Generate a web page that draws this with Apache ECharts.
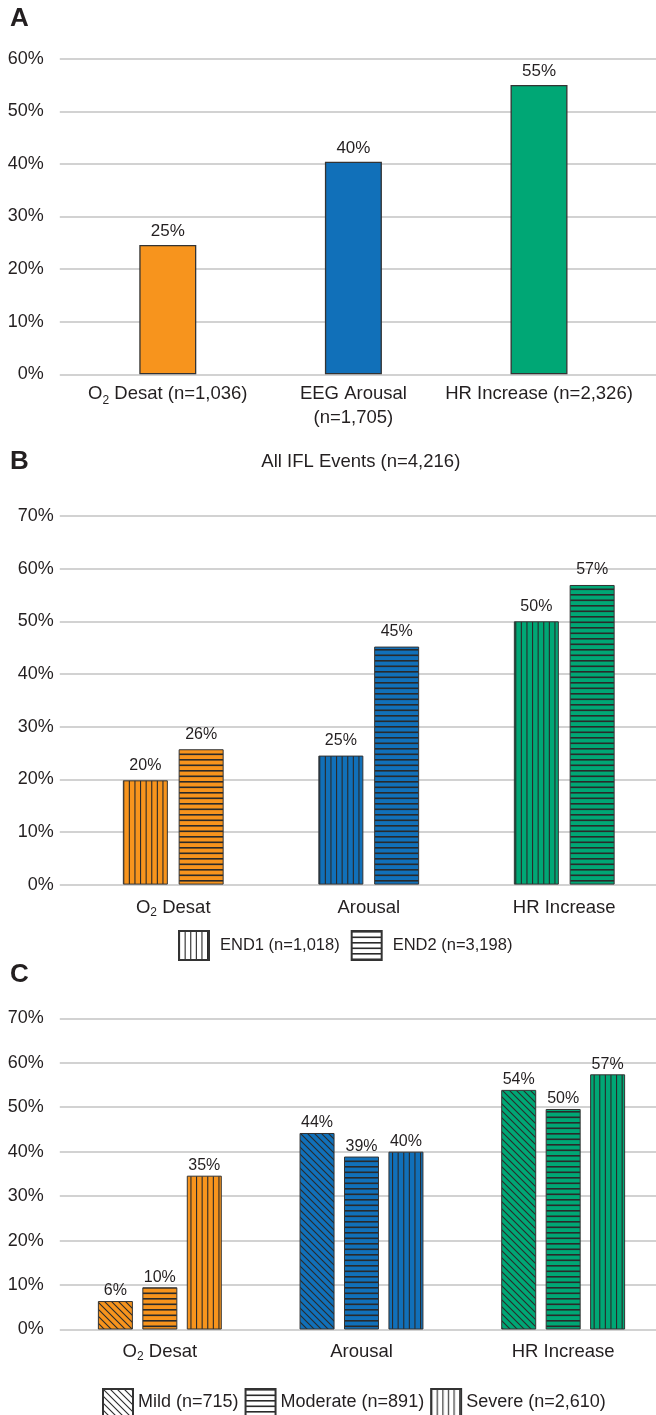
<!DOCTYPE html>
<html><head><meta charset="utf-8">
<script src="https://cdn.jsdelivr.net/npm/echarts@6/dist/echarts.min.js"></script>
<style>html,body{margin:0;padding:0;background:#fff}#c{width:656px;height:1415px}</style>
</head><body><div id="c"></div>
<script>
// ---------- data ----------
const categoriesA = ['O₂ Desat (n=1,036)', 'EEG Arousal\n(n=1,705)', 'HR Increase (n=2,326)'];
const valuesA = [24.6, 40.4, 55.0];
const categoriesBC = ['O₂ Desat', 'Arousal', 'HR Increase'];
const seriesNamesB = ['END1 (n=1,018)', 'END2 (n=3,198)'];
const end1 = [19.8, 24.5, 50.0];
const end2 = [25.7, 45.2, 56.9];
const seriesNamesC = ['Mild (n=715)', 'Moderate (n=891)', 'Severe (n=2,610)'];
const mild = [6.4, 44.2, 53.9];
const moderate = [9.5, 38.9, 49.6];
const severe = [34.6, 40.0, 57.4];
const panelLetters = ['A', 'B', 'C'];
const subtitleB = 'All IFL Events (n=4,216)';
const yMaxA = 60, yMaxBC = 70, yStep = 10;

// ---------- styling ----------
const FONT = '"Liberation Sans", Arial, Helvetica, sans-serif';
const TXT = '#231f20';
const LINE = '#2a2a2a';
const catColors = ['#F7941D', '#1170B9', '#00A775'];

function pattern(bg, kind, period, lw) {
  let n = 1;
  if (kind !== 'd') {
    for (const k of [1, 2, 5, 10]) { if (Math.abs(period * k - Math.round(period * k)) < 1e-6) { n = k; break; } }
  }
  const size = Math.round(period * n);
  const c = document.createElement('canvas');
  if (kind === 'v') { c.width = size; c.height = 4; }
  else if (kind === 'h') { c.width = 4; c.height = size; }
  else { c.width = size; c.height = size; }
  const ctx = c.getContext('2d');
  ctx.fillStyle = bg; ctx.fillRect(0, 0, c.width, c.height);
  ctx.fillStyle = LINE; ctx.strokeStyle = LINE; ctx.lineWidth = lw;
  if (kind === 'v') { for (let i = 0; i < n; i++) ctx.fillRect(i * period, 0, lw, c.height); }
  else if (kind === 'h') { for (let i = 0; i < n; i++) ctx.fillRect(0, i * period, c.width, lw); }
  else {
    for (let k = -1; k <= 1; k++) { ctx.beginPath(); ctx.moveTo(-1, k * size - 1); ctx.lineTo(size + 1, size + k * size + 1); ctx.stroke(); }
  }
  return { image: c, repeat: 'repeat' };
}
const PAT = {
  v: [5.6, 1.1], h: [5.5, 1.6], d: [7, 1.1]
};
function pat(bg, kind) { return pattern(bg, kind, PAT[kind][0], PAT[kind][1]); }

const catLabel = {
  color: TXT, fontSize: 18.5, fontFamily: FONT, lineHeight: 24,
  formatter: (s) => s.replace('₂', '{sub|2}'),
  rich: { sub: { fontSize: 12, lineHeight: 12, verticalAlign: 'bottom', color: TXT, fontFamily: FONT } }
};

function linesAxes(gi, max, margin) {
  return {
    x: { gridIndex: gi, type: 'value', show: false, min: 0, max: 1 },
    y: {
      gridIndex: gi, type: 'value', min: 0, max: max, interval: yStep,
      axisLine: { show: false }, axisTick: { show: false },
      axisLabel: { formatter: '{value}%', color: TXT, fontSize: 18, fontFamily: FONT, margin: margin },
      splitLine: { lineStyle: { color: '#c3c3c3', width: 1.5 } }
    }
  };
}
function barAxes(gi, cats, max, margin, lh) {
  return {
    x: {
      gridIndex: gi, type: 'category', data: cats,
      axisLine: { show: false }, axisTick: { show: false },
      axisLabel: Object.assign({}, catLabel, { margin: margin, lineHeight: lh, interval: 0 })
    },
    y: { gridIndex: gi, type: 'value', min: 0, max: max, interval: yStep, show: false }
  };
}

const panels = [
  { top: 58.7, h: 315.6, linesLeft: 59.8, barLeft: 75, barW: 556.8, max: yMaxA, yMargin: 16, xMargin: 8, lh: 24 },
  { top: 516, h: 368.6, linesLeft: 59.8, barLeft: 75.5, barW: 586.5, max: yMaxBC, yMargin: 6, xMargin: 12, lh: 22 },
  { top: 1018.3, h: 311.2, linesLeft: 59.8, barLeft: 59, barW: 605, max: yMaxBC, yMargin: 16, xMargin: 11, lh: 22 }
];
const grid = [], xAxis = [], yAxis = [];
const catsPerPanel = [categoriesA, categoriesBC, categoriesBC];
panels.forEach((p, i) => {
  grid.push({ left: p.linesLeft, right: 0, top: p.top, height: p.h, outerBoundsMode: 'none' });
  grid.push({ left: p.barLeft, width: p.barW, top: p.top, height: p.h, outerBoundsMode: 'none' });
  const la = linesAxes(2 * i, p.max, p.yMargin);
  const ba = barAxes(2 * i + 1, catsPerPanel[i], p.max, p.xMargin, p.lh);
  xAxis.push(la.x, ba.x); yAxis.push(la.y, ba.y);
});

function barLabel(size, dist) {
  return { show: true, position: 'top', distance: dist, color: TXT, fontSize: size, fontFamily: FONT,
    formatter: (p) => Math.round(p.value) + '%' };
}

const series = [];
series.push({
  type: 'bar', xAxisIndex: 1, yAxisIndex: 1, barWidth: 57,
  data: valuesA.map((v, i) => ({ value: v, itemStyle: { color: catColors[i] } })),
  itemStyle: { borderColor: '#333', borderWidth: 1.3 },
  label: barLabel(17, 5)
});
const bKinds = ['v', 'h'];
[end1, end2].forEach((vals, si) => {
  series.push({
    name: seriesNamesB[si], type: 'bar', xAxisIndex: 3, yAxisIndex: 3, barWidth: 45, barGap: '24%',
    itemStyle: { color: pat('#ffffff', bKinds[si]), borderColor: '#333', borderWidth: 1 },
    data: vals.map((v, i) => ({ value: v, itemStyle: { color: pat(catColors[i], bKinds[si]) } })),
    label: barLabel(16, 7)
  });
});
const cKinds = ['d', 'h', 'v'];
[mild, moderate, severe].forEach((vals, si) => {
  series.push({
    name: seriesNamesC[si], type: 'bar', xAxisIndex: 5, yAxisIndex: 5, barWidth: 35, barGap: '27%',
    itemStyle: { color: pat('#ffffff', cKinds[si]), borderColor: '#333', borderWidth: 1 },
    data: vals.map((v, i) => ({ value: v, itemStyle: { color: pat(catColors[i], cKinds[si]) } })),
    label: barLabel(16, 2)
  });
});

const letterY = [19, 462, 975];
const graphic = panelLetters.map((t, i) => ({
  type: 'text', x: 10, y: letterY[i],
  style: { text: t, font: 'bold 26px ' + FONT, fill: TXT, verticalAlign: 'middle', align: 'left' }
}));
graphic.push({
  type: 'text', x: 360.8, y: 461.5,
  style: { text: subtitleB, font: '18.5px ' + FONT, fill: TXT, verticalAlign: 'middle', align: 'center' }
});

const option = {
  animation: false,
  grid, xAxis, yAxis, series, graphic,
  legend: [
    { data: seriesNamesB, left: 178, top: 930, orient: 'horizontal', icon: 'rect', itemWidth: 30, itemHeight: 29,
      itemGap: 11, selectedMode: false, padding: 0,
      textStyle: { color: TXT, fontSize: 16.5, fontFamily: FONT, padding: [0, 0, 0, 6] } },
    { data: seriesNamesC, left: 102, top: 1388, orient: 'horizontal', icon: 'rect', itemWidth: 30, itemHeight: 27,
      itemGap: 6, selectedMode: false, padding: 0,
      textStyle: { color: TXT, fontSize: 18, fontFamily: FONT } }
  ]
};
const chart = echarts.init(document.getElementById('c'), null, { renderer: 'canvas' });
chart.setOption(option);
</script></body></html>
